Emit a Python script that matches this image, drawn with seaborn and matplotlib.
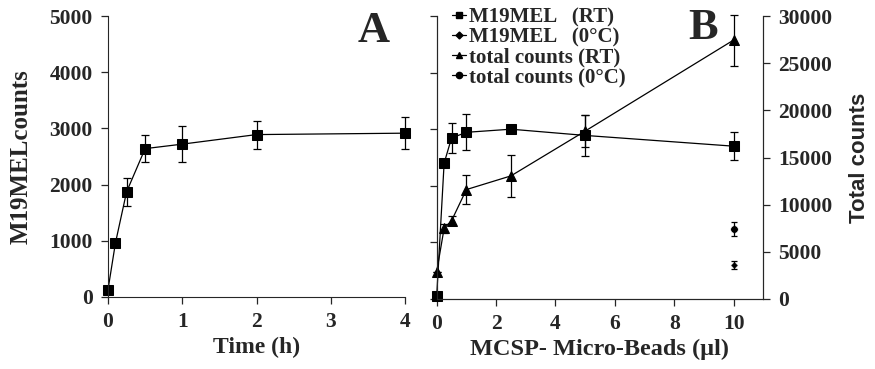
import numpy as np
import pandas as pd
import seaborn as sns
from matplotlib import pyplot as plt
from matplotlib.lines import Line2D

# panel A: uptake over time
time_h = [0, 0.1, 0.25, 0.5, 1, 2, 4]
m19_time = [130, 960, 1870, 2640, 2720, 2890, 2915]
m19_time_err = [0, 0, 250, 235, 320, 250, 290]

# panel B: bead titration
beads = [0, 0.25, 0.5, 1, 2.5, 5, 10]
m19_rt = [50, 2400, 2845, 2945, 3000, 2890, 2700]
m19_rt_err = [0, 50, 270, 320, 30, 360, 250]
total_rt = [2900, 7500, 8300, 11600, 13050, 17800, 27450]
total_rt_err = [0, 500, 500, 1500, 2200, 1700, 2700]
beads_cold = [10]
m19_cold = [600]
m19_cold_err = [70]
total_cold = [7450]
total_cold_err = [750]

sns.set_style('ticks')
plt.rcParams['font.family'] = ['Liberation Serif', 'DejaVu Serif']
plt.rcParams['font.weight'] = 'bold'

fig = plt.figure(figsize=(8.75, 3.69), dpi=100)
axA = fig.add_axes([108 / 875, 72 / 369, 297 / 875, 281 / 369])
axB = fig.add_axes([436.7 / 875, 70 / 369, 326.6 / 875, 283 / 369])
axB2 = axB.twinx()

lw = 0.9
dfA = pd.DataFrame({'t': time_h, 'c': m19_time})
sns.lineplot(data=dfA, x='t', y='c', ax=axA, color='black', marker='s',
             markersize=6.5, linewidth=lw, markeredgecolor='black', clip_on=False)
eb = axA.errorbar(time_h, m19_time, yerr=m19_time_err, fmt='none', ecolor='black',
                  elinewidth=lw, capsize=3, capthick=lw)
for art in eb.lines[1] + eb.lines[2]:
    art.set_clip_on(False)

# B left axis
dfB = pd.DataFrame({'b': beads, 'm': m19_rt, 't': total_rt})
sns.lineplot(data=dfB, x='b', y='m', ax=axB, color='black', marker='s',
             markersize=6.5, linewidth=lw, markeredgecolor='black', clip_on=False)
axB.errorbar(beads, m19_rt, yerr=m19_rt_err, fmt='none', ecolor='black',
             elinewidth=lw, capsize=3, capthick=lw)
sns.scatterplot(x=beads_cold, y=m19_cold, ax=axB, color='black', marker='D', s=14)
axB.errorbar(beads_cold, m19_cold, yerr=m19_cold_err, fmt='none', ecolor='black',
             elinewidth=lw, capsize=2, capthick=lw)

# B right axis
sns.lineplot(data=dfB, x='b', y='t', ax=axB2, color='black', marker='^',
             markersize=6.5, linewidth=lw, markeredgecolor='black', clip_on=False)
eb2 = axB2.errorbar(beads, total_rt, yerr=total_rt_err, fmt='none', ecolor='black',
                    elinewidth=lw, capsize=3, capthick=lw)
for art in eb2.lines[1] + eb2.lines[2]:
    art.set_clip_on(False)
sns.scatterplot(x=beads_cold, y=total_cold, ax=axB2, color='black', marker='o', s=30)
axB2.errorbar(beads_cold, total_cold, yerr=total_cold_err, fmt='none', ecolor='black',
              elinewidth=lw, capsize=2, capthick=lw)

tick_kw = dict(width=0.9, length=5, direction='out', pad=6, labelsize=15.5)

axA.set_xlim(0, 4)
axA.set_ylim(0, 5000)
axA.set_xticks([0, 1, 2, 3, 4])
axA.set_yticks([0, 1000, 2000, 3000, 4000, 5000])
axA.tick_params(**tick_kw)
axA.set_xlabel('Time (h)', fontsize=17, fontweight='bold', labelpad=3)
axA.set_ylabel('M19MELcounts', fontsize=18, fontweight='bold', labelpad=12)
sns.despine(ax=axA)
axA.text(0.95, 0.907, 'A', transform=axA.transAxes, fontsize=32,
         fontweight='bold', ha='right', va='baseline')

axB.set_xlim(0, 11)
axB.set_ylim(0, 5000)
axB.set_xticks([0, 2, 4, 6, 8, 10])
axB.set_yticks([0, 1000, 2000, 3000, 4000, 5000])
axB.set_yticklabels([])
axB.tick_params(**tick_kw)
axB.set_xlabel('MCSP- Micro-Beads (\u00b5l)', fontsize=17.5, fontweight='bold', labelpad=3)
axB.set_ylabel('')
axB2.set_ylim(0, 30000)
axB2.set_yticks([0, 5000, 10000, 15000, 20000, 25000, 30000])
axB2.tick_params(**tick_kw)
axB2.set_ylabel('Total counts', fontsize=16, fontweight='bold',
                family=['Liberation Sans', 'DejaVu Sans'], labelpad=12)
for a in (axB, axB2):
    a.spines['top'].set_visible(False)
axB.text(0.861, 0.919, 'B', transform=axB.transAxes, fontsize=32,
         fontweight='bold', ha='right', va='baseline')

for a in (axA, axB, axB2):
    for lab in a.get_xticklabels() + a.get_yticklabels():
        lab.set_fontweight('bold')
        lab.set_fontsize(15.5)

# legend
handles = [
    Line2D([], [], color='black', marker='s', markersize=5, linewidth=lw),
    Line2D([], [], color='black', marker='D', markersize=3.5, linewidth=lw),
    Line2D([], [], color='black', marker='^', markersize=5, linewidth=lw),
    Line2D([], [], color='black', marker='o', markersize=4.5, linewidth=lw),
]
labels = ['M19MEL   (RT)', 'M19MEL   (0\u00b0C)', 'total counts (RT)', 'total counts (0\u00b0C)']
axB2.legend(handles, labels, loc='upper left', bbox_to_anchor=(0.02, 1.06),
            frameon=False, fontsize=15, handlelength=0.7, handletextpad=0.15,
            labelspacing=0.0, borderaxespad=0)

fig.savefig('out.png', dpi=100)
